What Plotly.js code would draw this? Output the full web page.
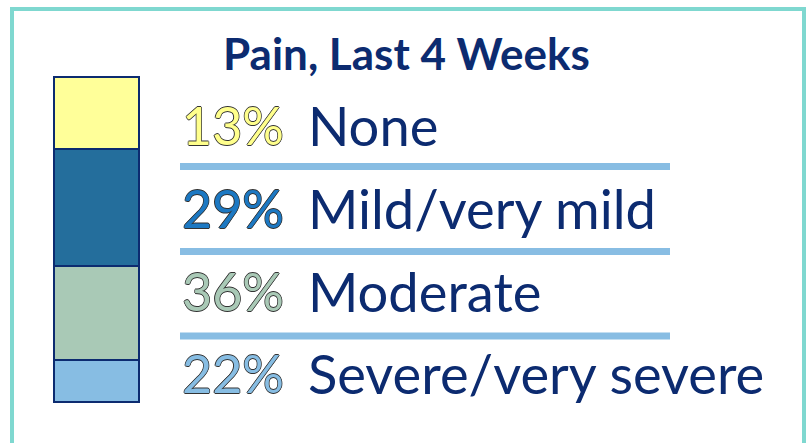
<!DOCTYPE html>
<html>
<head>
<meta charset="utf-8">
<script src="https://cdn.plot.ly/plotly-3.0.1.min.js"></script>
<style>html,body{margin:0;padding:0;background:#fff;}#chart{width:810px;height:443px;}</style>
</head>
<body>
<div id="chart"></div>
<script>
var chartTitle = "Pain, Last 4 Weeks";
var categories = ["None", "Mild/very mild", "Moderate", "Severe/very severe"];
var values = [13, 29, 36, 22];
var textColors = ["#ffff8c", "#1c78c2", "#a9c9b6", "#87bde3"];
var segmentColors = ["#ffff99", "#246e9c", "#a9c9b6", "#87bde3"];

var W = 810, H = 443;
function px(x) { return x / W; }
function py(y) { return 1 - y / H; }

var navy = "#0c2b70";
var traces = [];
// segments stacked bottom-to-top exactly as drawn in the reference
for (var i = 0; i < values.length; i++) {
  traces.push({
    type: "bar",
    x: [0],
    y: [values[i]],
    width: 0.955,
    marker: {color: segmentColors[values.length - 1 - i], line: {color: navy, width: 2}},
    hoverinfo: "skip",
    showlegend: false
  });
}

var rowY = [125, 208, 291, 373];
var sepY = [166.5, 251.5, 336];
var annotations = [];
var outline = "0.8px 0 0 #333, -0.8px 0 0 #333, 0 0.8px 0 #333, 0 -0.8px 0 #333";
for (var k = 0; k < categories.length; k++) {
  annotations.push({
    xref: "paper", yref: "paper", x: px(180), y: py(rowY[k]),
    xanchor: "left", yanchor: "middle", showarrow: false,
    text: values[k] + "%",
    font: {family: "Lato, 'Open Sans', sans-serif", size: 52, color: textColors[k], shadow: outline}
  });
  annotations.push({
    xref: "paper", yref: "paper", x: px(306), y: py(rowY[k]),
    xanchor: "left", yanchor: "middle", showarrow: false,
    text: categories[k],
    font: {family: "Lato, 'Open Sans', sans-serif", size: 54.3, color: navy}
  });
}
annotations.push({
  xref: "paper", yref: "paper", x: px(406), y: py(53),
  xanchor: "center", yanchor: "middle", showarrow: false,
  text: "<b>" + chartTitle + "</b>",
  font: {family: "Lato, 'Open Sans', sans-serif", size: 44, color: navy}
});

var shapes = [{
  type: "rect", xref: "paper", yref: "paper",
  x0: px(12), x1: px(804), y0: py(9), y1: py(445),
  line: {color: "#7fd8d0", width: 4}, fillcolor: "rgba(0,0,0,0)"
}];
for (var s = 0; s < sepY.length; s++) {
  shapes.push({
    type: "line", xref: "paper", yref: "paper",
    x0: px(180), x1: px(670), y0: py(sepY[s]), y1: py(sepY[s]),
    line: {color: "#88bde3", width: 7}
  });
}

var layout = {
  width: W, height: H,
  margin: {l: 0, r: 0, t: 0, b: 0},
  paper_bgcolor: "#ffffff", plot_bgcolor: "rgba(0,0,0,0)",
  barmode: "stack",
  xaxis: {domain: [px(52), px(141)], range: [-0.5, 0.5], visible: false, fixedrange: true},
  yaxis: {domain: [py(404), py(75)], range: [-0.615, 100.615], visible: false, fixedrange: true},
  annotations: annotations,
  shapes: shapes,
  showlegend: false
};

Plotly.newPlot("chart", traces, layout, {displayModeBar: false, staticPlot: true});
</script>
</body>
</html>
